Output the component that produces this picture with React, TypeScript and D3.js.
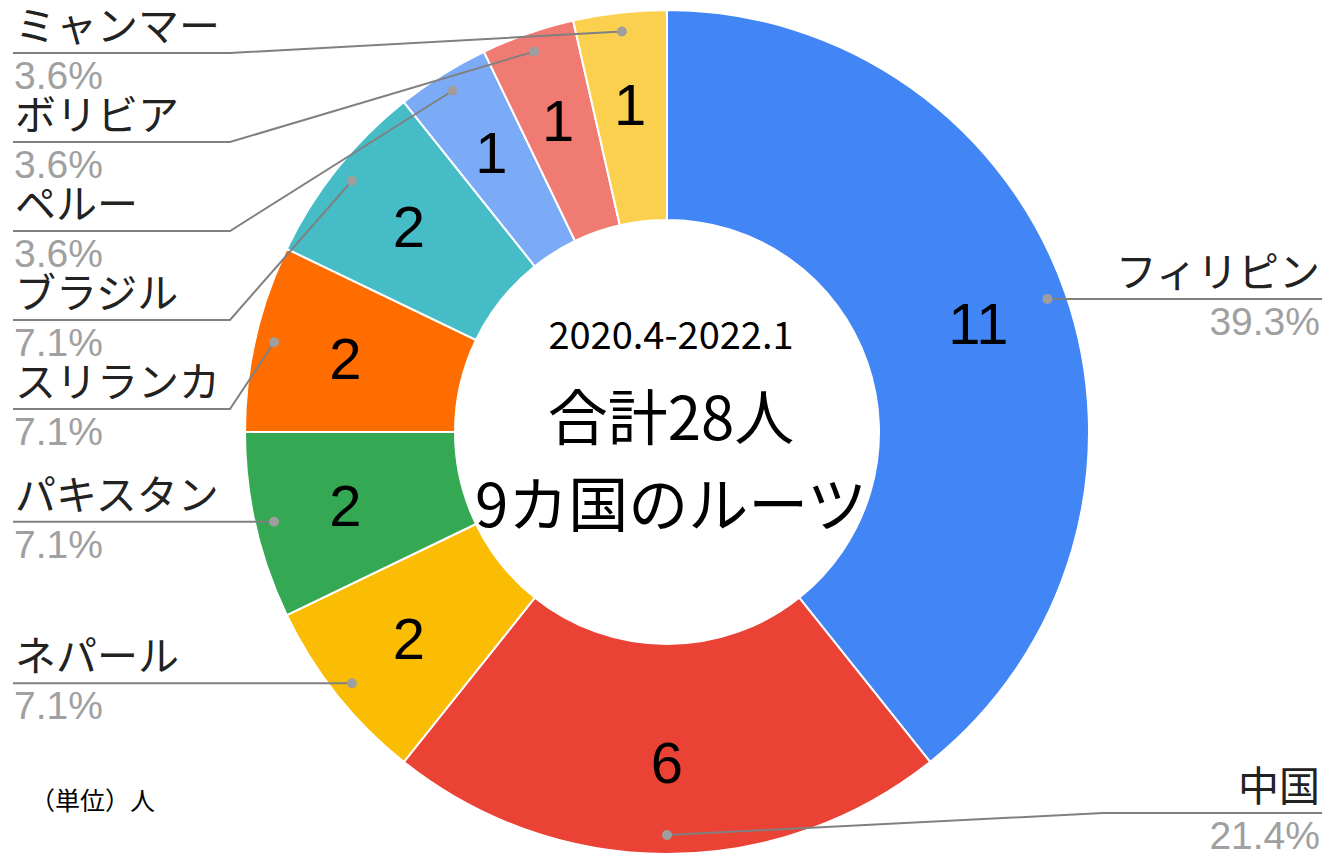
import React from "react";
import * as d3 from "d3";

const countries = ["フィリピン", "中国", "ネパール", "パキスタン", "スリランカ", "ブラジル", "ペルー", "ボリビア", "ミャンマー"];
const counts = [11, 6, 2, 2, 2, 2, 1, 1, 1];
const percentLabels = ["39.3%", "21.4%", "7.1%", "7.1%", "7.1%", "7.1%", "3.6%", "3.6%", "3.6%"];
const colors = ["#4285F4", "#EA4335", "#FBBC04", "#34A853", "#FF6D01", "#46BDC6", "#7BAAF7", "#F07B72", "#FCD04F"];
const centerLines = ["2020.4-2022.1", "合計28人", "9カ国のルーツ"];
const unitNote = "（単位）人";

const W = 1325;
const H = 853;
const cx = 667;
const cy = 432;
const outerR = 422;
const innerR = 212;
const valueR = 330;
const dotR = 403;

export default function App() {
  const pie = d3.pie<number>().value((d) => d).sort(null);
  const arcs = pie(counts);
  const arcGen = d3.arc<d3.PieArcDatum<number>>().innerRadius(innerR).outerRadius(outerR);

  const items = arcs.map((a, i) => {
    const mid = (a.startAngle + a.endAngle) / 2;
    return {
      i,
      mid,
      dx: cx + dotR * Math.sin(mid),
      dy: cy - dotR * Math.cos(mid),
      vx: cx + valueR * Math.sin(mid),
      vy: cy - valueR * Math.cos(mid),
      side: Math.sin(mid) >= 0 ? "right" : "left",
      ly: 0,
    };
  });

  const spacing = 89;
  const topMin = 53;
  const botMax = 813;
  (["left", "right"] as const).forEach((side) => {
    const group = items.filter((it) => it.side === side).sort((a, b) => a.dy - b.dy);
    let prev = -Infinity;
    group.forEach((it) => {
      it.ly = Math.max(it.dy, prev + spacing, topMin);
      prev = it.ly;
    });
    for (let k = group.length - 1; k >= 0; k--) {
      const lim = k === group.length - 1 ? botMax : group[k + 1].ly - spacing;
      group[k].ly = Math.min(group[k].ly, lim);
    }
  });

  const leftEdge = 13;
  const rightEdge = 1322;
  const leftElbow = 230;
  const rightElbow = 1103;

  return (
    <svg
      width={W}
      height={H}
      style={{ position: "fixed", left: 0, top: 0, background: "#fff" }}
    >
      <rect x={0} y={0} width={W} height={H} fill="#fff" />
      <g>
        {arcs.map((a, i) => (
          <path
            key={i}
            d={arcGen(a) || ""}
            transform={`translate(${cx},${cy})`}
            fill={colors[i]}
            stroke="#fff"
            strokeWidth={2}
          />
        ))}
      </g>
      <g fontFamily="'Liberation Sans', Arial, sans-serif" fontSize={58} fill="#000" textAnchor="middle">
        {items.map((it) => (
          <text key={it.i} x={it.vx} y={it.vy + 58 * 0.36}>
            {counts[it.i]}
          </text>
        ))}
      </g>
      <g>
        {items.map((it) => {
          const isLeft = it.side === "left";
          const end = isLeft ? leftEdge : rightEdge;
          const elbow = isLeft ? leftElbow : rightElbow;
          const pts: [number, number][] =
            Math.abs(it.ly - it.dy) < 0.5
              ? [[it.dx, it.dy], [end, it.ly]]
              : [[it.dx, it.dy], [elbow, it.ly], [end, it.ly]];
          const line = d3.line();
          return (
            <g key={it.i}>
              <path d={line(pts) || ""} fill="none" stroke="#808080" strokeWidth={2} />
              <circle cx={it.dx} cy={it.dy} r={5} fill="#9e9e9e" />
            </g>
          );
        })}
      </g>
      <g>
        {items.map((it) => {
          const isLeft = it.side === "left";
          const x = isLeft ? 15 : 1320;
          const anchor = isLeft ? "start" : "end";
          return (
            <g key={it.i}>
              <text
                x={x}
                y={it.ly - 12}
                textAnchor={anchor}
                fontFamily="'Noto Sans CJK JP', sans-serif"
                fontSize={41}
                fill="#222"
              >
                {countries[it.i]}
              </text>
              <text
                x={isLeft ? 14 : 1320}
                y={it.ly + 36}
                textAnchor={anchor}
                fontFamily="'Liberation Sans', Arial, sans-serif"
                fontSize={39}
                fill="#a0a0a0"
              >
                {percentLabels[it.i]}
              </text>
            </g>
          );
        })}
      </g>
      <g fontFamily="'Noto Sans CJK JP', sans-serif" fill="#000" textAnchor="middle">
        <text x={671} y={349} fontSize={38}>{centerLines[0]}</text>
        <text x={671} y={440} fontSize={60}>{centerLines[1]}</text>
        <text x={671} y={527} fontSize={60}>{centerLines[2]}</text>
      </g>
      <text x={30} y={810} fontFamily="'Noto Sans CJK JP', sans-serif" fontSize={25} fill="#000">
        {unitNote}
      </text>
    </svg>
  );
}
